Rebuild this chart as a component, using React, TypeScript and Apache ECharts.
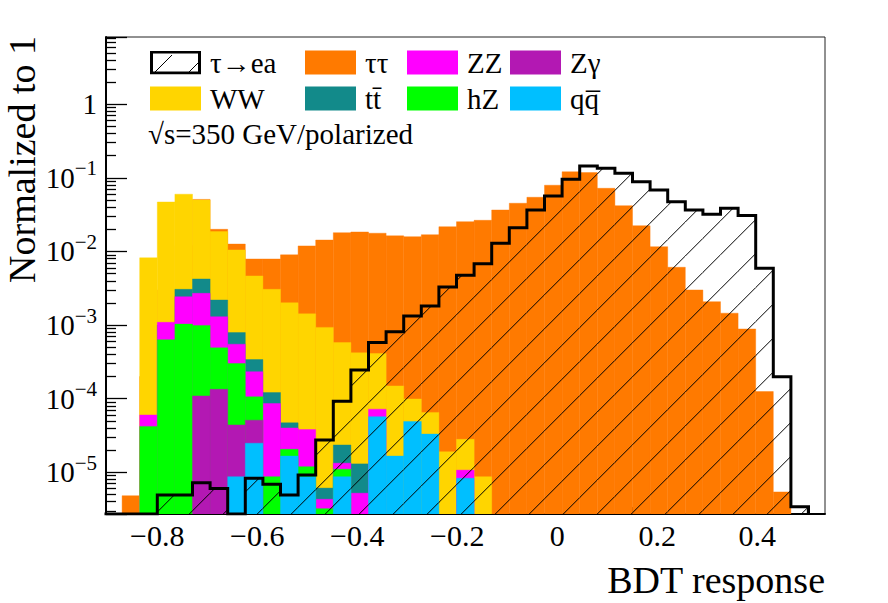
import React, { useEffect, useRef } from "react";
import * as echarts from "echarts";

// ---- binning (40 bins) ----
const BIN_LO = -0.9056;
const BIN_W = 0.0352;
const X_MIN = -0.9026;
const X_MAX = 0.5354;
const Y_MIN = 2.71e-6;
const Y_MAX = 8.2;

// ---- axis ticks ----
const X_MAJOR = [-0.8, -0.6, -0.4, -0.2, 0, 0.2, 0.4];
const X_MINOR = [-0.85, -0.75, -0.7, -0.65, -0.55, -0.5, -0.45, -0.35, -0.3, -0.25, -0.15, -0.1, -0.05, 0.05, 0.1, 0.15, 0.25, 0.3, 0.35, 0.45, 0.5];
const Y_DECADES = [-6, -5, -4, -3, -2, -1, 0];
const Y_MINOR_MANTISSA = [2, 3, 4, 5, 6, 7, 8, 9];

// ---- series values per bin (0 = empty) ----
const SIGNAL = [0, 0, 0, 4.9e-6, 4.9e-6, 7.2e-6, 6.0e-6, 0, 8.3e-6, 6.9e-6, 4.9e-6, 9.2e-6, 2.75e-5, 9.2e-5, 2.45e-4, 5.8e-4, 8.1e-4, 1.33e-3, 1.82e-3, 3.3e-3, 4.75e-3, 6.8e-3, 0.0129, 0.021, 0.0365, 0.0568, 0.0957, 0.145, 0.135, 0.1155, 0.0888, 0.0685, 0.0475, 0.0366, 0.032, 0.0386, 0.0307, 0.0059, 1.99e-4, 3.4e-6];
const TAUTAU = [0, 4.8e-6, 2e-4, 3e-3, 0.012, 0.051, 0.020, 0.0126, 0.0079, 0.0079, 0.009, 0.0119, 0.0143, 0.018, 0.0184, 0.0177, 0.0163, 0.0159, 0.0169, 0.0217, 0.0254, 0.0265, 0.0366, 0.0452, 0.0545, 0.0794, 0.121, 0.118, 0.0722, 0.0419, 0.0224, 0.0116, 0.0061, 0.0030, 0.00208, 0.00145, 8.85e-4, 1.25e-4, 5.4e-6, 0];
const WW = [0, 0, 0.0082, 0.047, 0.060, 0.050, 0.0186, 0.0105, 0.00465, 0.00306, 0.00201, 0.00142, 9.3e-4, 5.8e-4, 4.2e-4, 4.1e-4, 1.49e-4, 9.9e-5, 6.5e-5, 1.9e-5, 2.8e-5, 8.7e-6, 0, 0, 0, 0, 0, 0, 0, 0, 0, 0, 0, 0, 0, 0, 0, 0, 0, 0];
const TTBAR = [0, 0, 0, 1.0e-3, 3.06e-3, 4.23e-3, 2.19e-3, 7.9e-4, 3.4e-4, 1.21e-4, 4.7e-5, 0, 6.1e-6, 2.35e-5, 1.3e-5, 0, 0, 0, 0, 0, 0, 0, 0, 0, 0, 0, 0, 0, 0, 0, 0, 0, 0, 0, 0, 0, 0, 0, 0, 0];
const ZZ = [0, 0, 6.0e-5, 1.09e-3, 2.43e-3, 2.7e-3, 1.3e-3, 5.5e-4, 2.33e-4, 8.6e-5, 4.0e-5, 3.8e-5, 4.3e-6, 1.33e-5, 5.2e-6, 7.2e-5, 0, 0, 0, 0, 1.07e-5, 0, 0, 0, 0, 0, 0, 0, 0, 0, 0, 0, 0, 0, 0, 0, 0, 0, 0, 0];
const HZ = [0, 0, 4.2e-5, 6.3e-4, 1.03e-3, 9.9e-4, 4.9e-4, 3.0e-4, 1.06e-4, 8.7e-6, 2.05e-5, 1.19e-5, 3.2e-6, 1.1e-5, 0, 0, 0, 0, 0, 0, 0, 0, 0, 0, 0, 0, 0, 0, 0, 0, 0, 0, 0, 0, 0, 0, 0, 0, 0, 0];
const ZGAMMA = [0, 0, 0, 0, 0, 1.09e-4, 1.34e-4, 4.4e-5, 5.1e-5, 0, 0, 0, 0, 0, 0, 0, 0, 0, 0, 0, 0, 0, 0, 0, 0, 0, 0, 0, 0, 0, 0, 0, 0, 0, 0, 0, 0, 0, 0, 0];
const QQBAR = [0, 0, 0, 0, 0, 0, 0, 8.7e-6, 2.48e-5, 0, 1.66e-5, 8.7e-6, 0, 8.7e-6, 0, 5.7e-5, 1.66e-5, 4.9e-5, 3.3e-5, 0, 8.3e-6, 0, 0, 0, 0, 0, 0, 0, 0, 0, 0, 0, 0, 0, 0, 0, 0, 0, 0, 0];

const NAMES = {
  sig: "τ→ea",
  tautau: "ττ",
  ww: "WW",
  tt: "tt\u0304",
  zz: "ZZ",
  hz: "hZ",
  zg: "Zγ",
  qq: "qq\u0305",
};

const COLORS = {
  tautau: "#FF7A00",
  ww: "#FFD500",
  tt: "#128A8A",
  zz: "#FF00FF",
  hz: "#00FF00",
  zg: "#B318B3",
  qq: "#00BFFF",
};

const FONT = '"Liberation Serif", "Times New Roman", serif';
const HATCH_PHASE = 1009.3;
const HATCH_STEP = 34;

function binRows(values: number[]) {
  return values
    .map((v, i) => [BIN_LO + i * BIN_W, BIN_LO + (i + 1) * BIN_W, v])
    .filter((d) => d[2] > 0);
}

function histSeries(name: string, values: number[], color: string) {
  return {
    type: "custom",
    name,
    clip: true,
    data: binRows(values),
    encode: { x: [0, 1], y: 2 },
    itemStyle: { color },
    renderItem: (params: any, api: any) => {
      const a = api.coord([api.value(0), api.value(2)]);
      const b = api.coord([api.value(1), Y_MIN]);
      return {
        type: "rect",
        shape: { x: a[0], y: a[1], width: b[0] - a[0], height: b[1] - a[1] },
        style: { fill: color, stroke: color, lineWidth: 0.4 },
      };
    },
  };
}

const legendSvg =
  '<svg xmlns="http://www.w3.org/2000/svg" width="51" height="24" viewBox="0 0 51 24">' +
  '<rect x="1.5" y="1.5" width="48" height="21" fill="white" stroke="black" stroke-width="3"/>' +
  '<line x1="5" y1="21.5" x2="22" y2="4.5" stroke="black" stroke-width="1"/>' +
  '<line x1="39" y1="21.5" x2="48.5" y2="12" stroke="black" stroke-width="1"/></svg>';
const SIG_ICON = "image://data:image/svg+xml;charset=utf-8," + encodeURIComponent(legendSvg);

export default function App() {
  const ref = useRef<HTMLDivElement>(null);
  useEffect(() => {
    if (!ref.current) return;
    const chart = echarts.init(ref.current, undefined, { renderer: "svg" });

    const yMinorVals: number[] = [];
    Y_DECADES.forEach((d) =>
      Y_MINOR_MANTISSA.forEach((m) => {
        const v = m * Math.pow(10, d);
        if (v > Y_MIN && v < Y_MAX) yMinorVals.push(Math.log10(v));
      })
    );

    const outline: number[][] = SIGNAL.map((v, i) => [BIN_LO + i * BIN_W, v > 0 ? v : Y_MIN]);
    outline.push([BIN_LO + SIGNAL.length * BIN_W, Y_MIN]);

    const legendBase = {
      orient: "vertical",
      top: 48,
      itemWidth: 51,
      itemHeight: 24,
      itemGap: 7,
      padding: 0,
      selectedMode: false,
      icon: "rect",
      textStyle: { fontFamily: FONT, fontSize: 29, color: "#000", lineHeight: 24, height: 24, padding: [0, 0, 0, 4] },
    };

    const option: any = {
      animation: false,
      backgroundColor: "#fff",
      grid: { left: 106, top: 37, width: 719, height: 477, show: true, borderColor: "#222", borderWidth: 1, backgroundColor: "#fff", containLabel: false, outerBoundsMode: "none" },
      xAxis: [
        {
          type: "value",
          min: X_MIN,
          max: X_MAX,
          position: "bottom",
          splitLine: { show: false },
          axisLine: { show: true, onZero: false, lineStyle: { color: "#000", width: 2 } },
          axisTick: { show: true, inside: true, length: 14, customValues: X_MAJOR, lineStyle: { color: "#000", width: 1.3 } },
          axisLabel: {
            customValues: X_MAJOR,
            margin: 6,
            fontFamily: FONT,
            fontSize: 30,
            color: "#000",
            formatter: (v: number) => (v < 0 ? "\u2212" + String(Math.abs(v)) : String(v)),
          },
        },
        {
          type: "value",
          min: X_MIN,
          max: X_MAX,
          position: "bottom",
          splitLine: { show: false },
          axisLine: { show: false, onZero: false },
          axisLabel: { show: false },
          axisTick: { show: true, inside: true, length: 7, customValues: X_MINOR, lineStyle: { color: "#000", width: 1.3 } },
        },
      ],
      yAxis: [
        {
          type: "log",
          logBase: 10,
          min: Y_MIN,
          max: Y_MAX,
          position: "left",
          splitLine: { show: false },
          axisLine: { show: true, onZero: false, lineStyle: { color: "#000", width: 2 } },
          axisTick: { show: true, inside: true, length: 21, lineStyle: { color: "#000", width: 1.3 } },
          axisLabel: {
            margin: 9,
            color: "#000",
            formatter: (v: number) => {
              const l = Math.log10(v);
              const e = Math.round(l);
              if (Math.abs(l - e) > 1e-6) return "";
              if (e === 0) return "{b|1}";
              return "{b|10}{s|\u2212" + String(-e) + "}";
            },
            rich: {
              b: { fontFamily: FONT, fontSize: 29, lineHeight: 40, color: "#000" },
              s: { fontFamily: FONT, fontSize: 21, lineHeight: 22, verticalAlign: "top", color: "#000" },
            },
          },
        },
        {
          type: "value",
          min: Math.log10(Y_MIN),
          max: Math.log10(Y_MAX),
          position: "left",
          splitLine: { show: false },
          axisLine: { show: false, onZero: false },
          axisLabel: { show: false },
          axisTick: { show: true, inside: true, length: 10, customValues: yMinorVals, lineStyle: { color: "#000", width: 1.3 } },
        },
      ],
      legend: [
        { ...legendBase, left: 150, data: [{ name: NAMES.sig, icon: SIG_ICON }, { name: NAMES.ww }] },
        { ...legendBase, left: 305, data: [{ name: NAMES.tautau }, { name: NAMES.tt }] },
        { ...legendBase, left: 407, data: [{ name: NAMES.zz }, { name: NAMES.hz }] },
        { ...legendBase, left: 510, data: [{ name: NAMES.zg }, { name: NAMES.qq }] },
      ],
      graphic: [
        {
          type: "text",
          left: 148,
          top: 119,
          style: { text: "√s=350 GeV/polarized", font: "29px " + FONT, fill: "#000" },
        },
        {
          type: "text",
          x: 825,
          y: 580,
          style: { text: "BDT response", font: "38px " + FONT, fill: "#000", align: "right", verticalAlign: "middle" },
        },
        {
          type: "text",
          x: 22,
          y: 36,
          rotation: Math.PI / 2,
          style: { text: "Normalized to 1", font: "38px " + FONT, fill: "#000", align: "right", verticalAlign: "middle" },
        },
      ],
      series: [
        histSeries(NAMES.tautau, TAUTAU, COLORS.tautau),
        histSeries(NAMES.ww, WW, COLORS.ww),
        histSeries(NAMES.tt, TTBAR, COLORS.tt),
        histSeries(NAMES.zz, ZZ, COLORS.zz),
        histSeries(NAMES.hz, HZ, COLORS.hz),
        histSeries(NAMES.zg, ZGAMMA, COLORS.zg),
        histSeries(NAMES.qq, QQBAR, COLORS.qq),
        {
          type: "custom",
          name: NAMES.sig,
          clip: true,
          data: binRows(SIGNAL),
          encode: { x: [0, 1], y: 2 },
          itemStyle: { color: "#fff", borderColor: "#000" },
          renderItem: (params: any, api: any) => {
            const a = api.coord([api.value(0), api.value(2)]);
            const b = api.coord([api.value(1), Y_MIN]);
            const x0 = a[0], x1 = b[0], yT = a[1], yB = b[1];
            const children: any[] = [];
            const nStart = Math.ceil((x0 + yT - HATCH_PHASE) / HATCH_STEP);
            const nEnd = Math.floor((x1 + yB - HATCH_PHASE) / HATCH_STEP);
            for (let n = nStart; n <= nEnd; n++) {
              const c = HATCH_PHASE + n * HATCH_STEP;
              const xa = Math.max(x0, c - yB);
              const xb = Math.min(x1, c - yT);
              if (xb > xa) {
                children.push({
                  type: "line",
                  shape: { x1: xa, y1: c - xa, x2: xb, y2: c - xb },
                  style: { stroke: "#000", lineWidth: 1 },
                });
              }
            }
            return { type: "group", children };
          },
        },
        {
          type: "line",
          name: NAMES.sig,
          data: outline,
          step: "end",
          symbol: "none",
          clip: true,
          lineStyle: { color: "#000", width: 3, join: "miter", cap: "butt" },
          itemStyle: { color: "#000" },
          z: 5,
        },
      ],
    };
    chart.setOption(option);
    return () => chart.dispose();
  }, []);
  return <div ref={ref} style={{ position: "absolute", left: 0, top: 0, width: 888, height: 603 }} />;
}
